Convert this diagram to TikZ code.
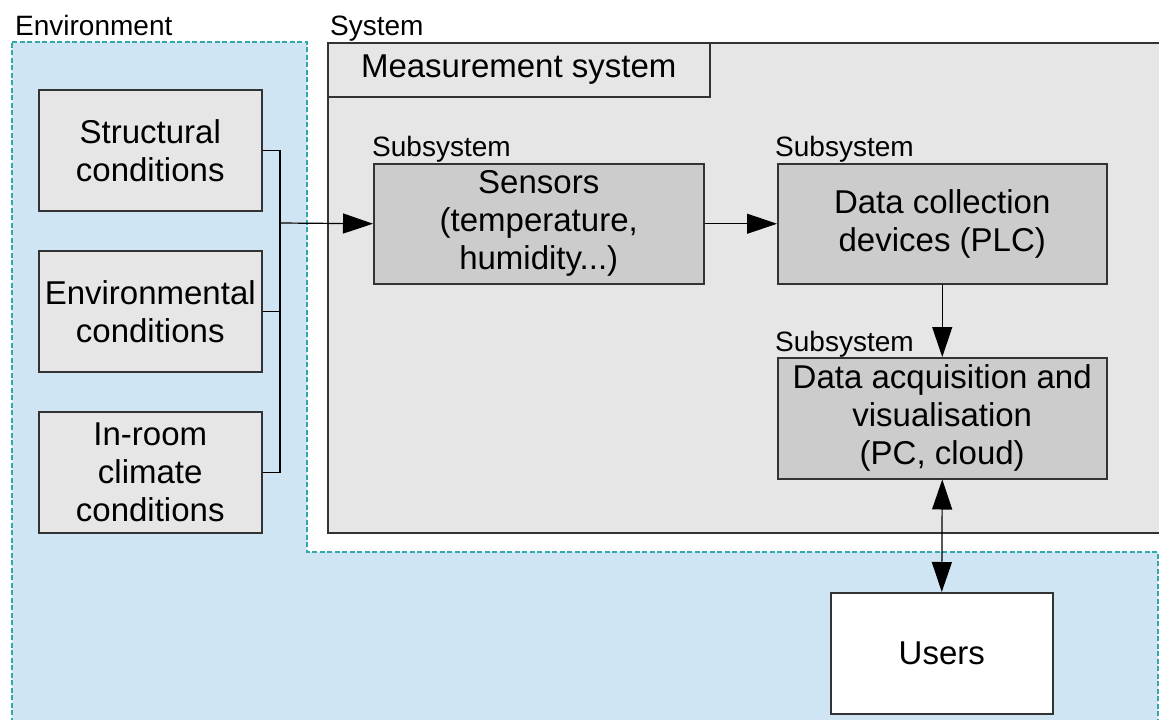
\documentclass[tikz,border=0pt]{standalone}
\usepackage{fontspec}
\setmainfont{Liberation Sans}
\usetikzlibrary{arrows.meta}
\definecolor{envfill}{HTML}{CFE5F3}
\definecolor{envline}{HTML}{33A8A8}
\definecolor{sysfill}{HTML}{E6E6E6}
\definecolor{subfill}{HTML}{CCCCCC}
\definecolor{edgecol}{HTML}{333333}
\tikzset{
 bigtext/.style={font=\fontsize{33}{38}\selectfont, align=center},
 smalltext/.style={font=\fontsize{28}{32}\selectfont, inner sep=0pt},
 plainbox/.style={draw=edgecol, line width=1.5pt, bigtext, anchor=north west, inner sep=0pt},
 condbox/.style={plainbox, fill=sysfill, minimum width=223pt, minimum height=121pt},
 subbox/.style={plainbox, fill=subfill, minimum width=330pt, minimum height=120pt},
 conn/.style={line width=1.2pt, draw=black},
 arr/.style={conn, -{Triangle[length=30pt,width=20pt]}},
 darr/.style={conn, {Triangle[length=30pt,width=20pt]}-{Triangle[length=30pt,width=20pt]}},
}
\begin{document}
\begin{tikzpicture}[x=1pt,y=-1pt]
\useasboundingbox (0,0) rectangle (1159,720);
\clip (0,0) rectangle (1159,720);
\fill[white] (0,0) rectangle (1159,720);
% environment region
\filldraw[fill=envfill, draw=envline, line width=2.2pt, dash pattern=on 5pt off 2.5pt]
  (12,42) -- (307,42) -- (307,552) -- (1158,552) -- (1158,740) -- (12,740) -- cycle;
\node[smalltext, anchor=base west] (lenv) at (15,35) {Environment};
% system
\node[plainbox, fill=sysfill, minimum width=850pt, minimum height=490pt] (sys) at (327,42) {};
\node[smalltext, anchor=base west] (lsys) at (330,35) {System};
\node[plainbox, fill=sysfill, minimum width=382pt, minimum height=54pt] (meas) at (327,42) {Measurement system};
% conditions
\node[condbox] (c1) at (38,89) {Structural\\conditions};
\node[condbox] (c2) at (38,250) {Environmental\\conditions};
\node[condbox] (c3) at (38,411) {In-room\\climate\\conditions};
% subsystems
\node[subbox] (sens) at (373,163) {Sensors\\(temperature,\\humidity...)};
\node[subbox, minimum width=329pt] (dc) at (777,163) {Data collection\\devices (PLC)};
\node[subbox, minimum width=329pt, minimum height=121pt] (acq) at (777,357) {Data acquisition and\\visualisation\\(PC, cloud)};
\node[smalltext, anchor=base west] (l1) at (372,156) {Subsystem};
\node[smalltext, anchor=base west] (l2) at (775,156) {Subsystem};
\node[smalltext, anchor=base west] (l3) at (775,351) {Subsystem};
% users
\node[plainbox, fill=white, minimum width=222pt, minimum height=121pt] (users) at (830,592) {Users};
% connectors
\coordinate (bx) at (280,223);
\draw[conn] (c1.east) -- (c1.east -| bx) |- (c3.east);
\draw[conn] (c2.east) -- (c2.east -| bx);
\draw[arr] (bx) -- (sens.west);
\draw[arr] (sens.east) -- (dc.west);
\draw[arr] (dc.south) -- (acq.north);
\draw[darr] (acq.south) -- (users.north);
\end{tikzpicture}
\end{document}
